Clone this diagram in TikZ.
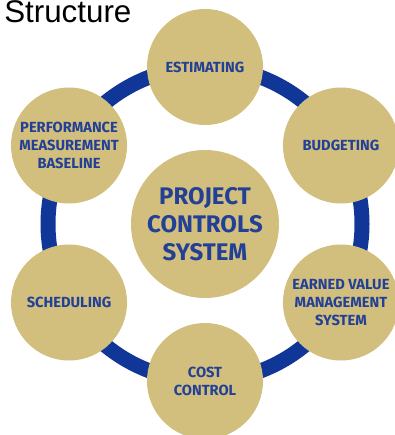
\documentclass[tikz,border=0pt]{standalone}
\usepackage{fontspec}
\setmainfont{Liberation Sans}
\newfontfamily\labelfont{Fira Sans}
\usetikzlibrary{positioning,calc}

\definecolor{sand}{RGB}{210,190,125}
\definecolor{ringblue}{RGB}{16,54,152}
\definecolor{textblue}{RGB}{34,64,150}

\tikzset{
    phase/.style={circle,fill=sand,minimum size=87pt,inner sep=0pt,align=center,
        text=textblue,font=\labelfont\bfseries\fontsize{11}{13.6}\selectfont},
    hubnode/.style={circle,fill=sand,minimum size=111pt,inner sep=0pt,align=center,
        text=textblue,font=\labelfont\bfseries\fontsize{18}{21}\selectfont},
    ring/.style={draw=ringblue,line width=11.25pt}
}

\begin{document}
\begin{tikzpicture}[x=0.75pt,y=-0.75pt]
            \useasboundingbox (0,0) rectangle (394,435);
            \node[anchor=base west,font=\fontsize{23.5}{28}\selectfont,inner sep=0pt] (title) at (4,23) {Structure};
            % centre and ring
            \coordinate (ctr) at (205,224);
            \draw[ring] (ctr) circle[radius=117.75pt];
            \node[hubnode] (hub) at (ctr) {PROJECT\\CONTROLS\\SYSTEM};
            % the six phases
            \node[phase] (estimating) at ([shift={(90:117.75pt)}]ctr) {ESTIMATING};
            \node[phase] (budgeting) at ([shift={(30:117.75pt)}]ctr) {BUDGETING};
            \node[phase] (evms) at ([shift={(-30:117.75pt)}]ctr) {EARNED VALUE\\MANAGEMENT\\SYSTEM};
            \node[phase] (cost) at ([shift={(-90:117.75pt)}]ctr) {COST\\CONTROL};
            \node[phase] (scheduling) at ([shift={(-150:117.75pt)}]ctr) {SCHEDULING};
            \node[phase] (pmb) at ([shift={(150:117.75pt)}]ctr) {PERFORMANCE\\MEASUREMENT\\BASELINE};
        \end{tikzpicture}
\end{document}
